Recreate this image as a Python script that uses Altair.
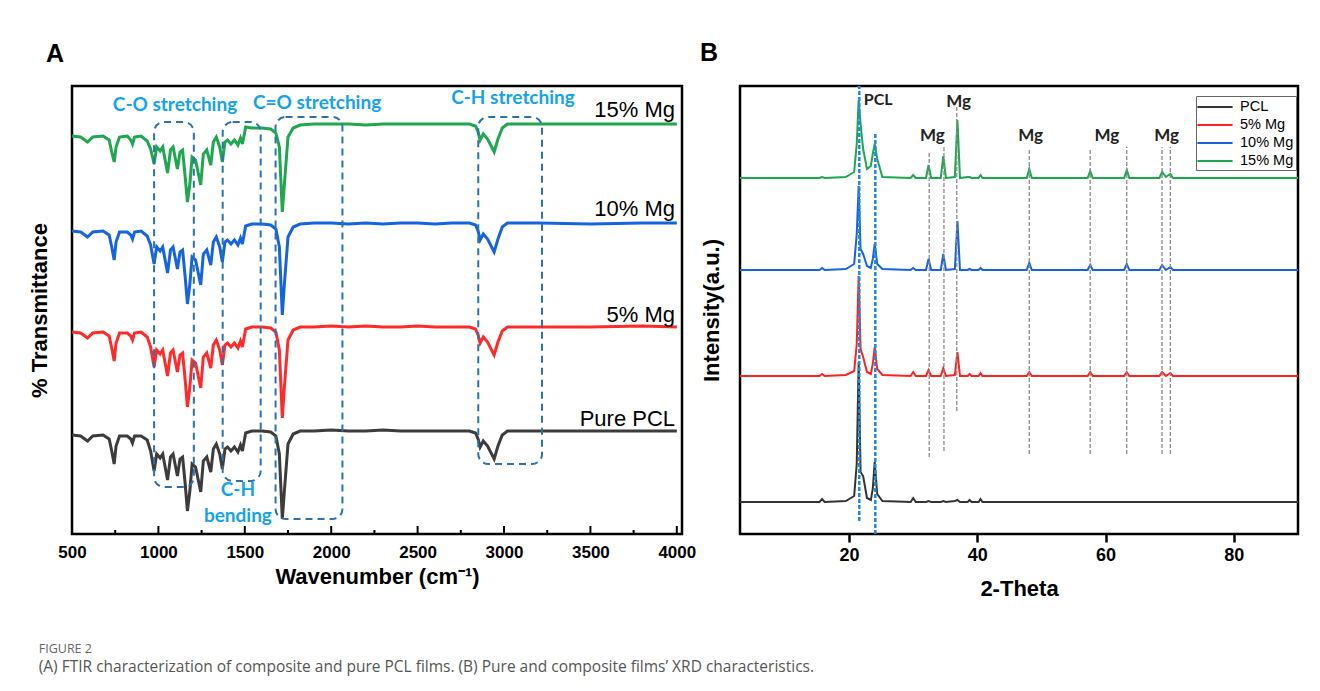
import altair as alt
import pandas as pd

# ---------------- Panel A : FTIR ----------------
WAVENUMBER = [500, 550, 590, 620, 680, 715, 730, 744, 755, 775,
              820, 840, 850, 862, 900, 935, 955, 975, 990, 1010,
              1025, 1053, 1070, 1085, 1110, 1125, 1140, 1155, 1168, 1182,
              1195, 1215, 1245, 1260, 1280, 1303, 1318, 1335, 1355, 1370,
              1385, 1400, 1420, 1440, 1460, 1475, 1486, 1505, 1540, 1600,
              1650, 1680, 1700, 1717, 1730, 1750, 1780, 1820, 1900, 2000,
              2100, 2200, 2300, 2400, 2500, 2600, 2700, 2800, 2835, 2850,
              2862, 2880, 2905, 2943, 2965, 2990, 3020, 3200, 3500, 3800,
              4000]

FTIR_PCL = [99, 98, 93, 98, 99, 95, 83, 70, 88, 98,
            98, 95, 91, 98, 98, 94, 83, 63, 80, 76,
            80, 54, 77, 80, 58, 75, 77, 50, 23, 43,
            70, 67, 42, 73, 77, 62, 85, 90, 80, 65,
            85, 87, 83, 87, 82, 89, 83, 101, 103, 103,
            102, 98, 80, 15, 45, 90, 100, 103, 103, 104,
            103, 103, 104, 103, 103, 103, 103, 103, 101, 95,
            87, 93, 88, 75, 88, 99, 103, 103, 103, 103,
            103]

FTIR_5MG = [202, 201, 196, 201, 202, 198, 186, 173, 191, 201,
            201, 198, 194, 201, 202, 197, 187, 167, 184, 180,
            184, 158, 181, 184, 162, 179, 181, 154, 127, 147,
            174, 171, 146, 177, 181, 166, 189, 194, 184, 169,
            189, 191, 187, 191, 186, 193, 187, 205, 207, 207,
            206, 202, 184, 116, 149, 194, 204, 207, 207, 208,
            207, 208, 207, 207, 208, 207, 207, 207, 205, 199,
            191, 197, 192, 179, 192, 203, 207, 207, 207, 208,
            207]

FTIR_10MG = [303, 302, 297, 302, 303, 299, 287, 274, 292, 302,
             302, 299, 295, 302, 303, 298, 289, 270, 287, 283,
             287, 261, 284, 287, 265, 282, 284, 257, 230, 250,
             277, 274, 249, 280, 284, 269, 292, 297, 287, 272,
             292, 294, 290, 294, 289, 296, 290, 308, 310, 310,
             309, 305, 287, 219, 252, 297, 307, 310, 311, 311,
             310, 311, 310, 311, 311, 310, 311, 311, 309, 303,
             294, 300, 295, 282, 295, 307, 311, 311, 310, 311,
             311]

FTIR_15MG = [398, 397, 392, 397, 398, 394, 382, 372, 387, 397,
             398, 394, 390, 397, 398, 393, 385, 370, 387, 383,
             387, 361, 384, 387, 365, 382, 384, 357, 332, 350,
             377, 374, 349, 380, 384, 369, 392, 397, 387, 372,
             392, 394, 390, 394, 389, 396, 390, 407, 406, 406,
             405, 401, 387, 322, 352, 397, 406, 409, 410, 410,
             410, 409, 410, 410, 410, 410, 410, 410, 408, 402,
             394, 400, 395, 382, 395, 406, 410, 410, 410, 410,
             410]

FTIR_NAMES = ["Pure PCL", "5% Mg", "10% Mg", "15% Mg"]
FTIR_COLORS = ["#3c3c3c", "#ff2b2b", "#1664dc", "#1fa64f"]
FTIR_LABEL_Y = [108, 212, 318, 417]
FTIR_LABEL_X = [3990, 3990, 3990, 3990]

BOX_X1 = [975, 1372, 1678, 2851]
BOX_X2 = [1205, 1592, 2065, 3220]
BOX_Y1 = [47, 53, 15, 70]
BOX_Y2 = [412, 412, 417, 417]

BAND_TEXT = ["C-O stretching", "C=O stretching", "C-H stretching", "C-H", "bending"]
BAND_X = [1096, 1918, 3052, 1460, 1460]
BAND_Y = [429, 431, 436, 44, 18]

MAJOR_TICKS = [500, 1000, 1500, 2000, 2500, 3000, 3500, 4000]
MINOR_TICKS = [750, 1250, 1750, 2250, 2750, 3250, 3750]

# ---------------- Panel B : XRD ----------------
THETA = [3.0, 10.0, 15.4, 15.8, 16.2, 19.5, 20.8, 21.2, 21.5, 21.8,
         22.2, 22.8, 23.4, 23.7, 24.0, 24.4, 25.2, 29.6, 30.0, 30.4,
         32.0, 32.4, 32.8, 34.3, 34.7, 35.1, 36.5, 36.9, 37.3, 38.5,
         38.8, 39.1, 40.2, 40.5, 40.8, 47.7, 48.1, 48.5, 57.2, 57.6,
         58.0, 62.9, 63.3, 63.7, 68.4, 68.8, 69.4, 70.1, 70.5, 90.0]

XRD_PCL = [32, 32, 32, 35, 32, 33, 38, 70, 172, 62,
           58, 36, 34, 45, 72, 40, 33, 32, 36, 32,
           32, 33, 32, 32, 33, 32, 33, 34, 32, 32,
           34, 32, 32, 35, 32, 32, 32, 32, 32, 32,
           32, 32, 32, 32, 32, 32, 32, 32, 32, 32]

XRD_5MG = [158, 158, 158, 160, 158, 159, 163, 190, 258, 185,
           177, 162, 160, 170, 187, 165, 159, 158, 162, 158,
           158, 164, 158, 158, 166, 158, 159, 182, 158, 158,
           160, 158, 158, 161, 158, 158, 162, 158, 158, 162,
           158, 158, 162, 158, 158, 162, 158, 161, 158, 158]

XRD_10MG = [264, 264, 264, 266, 264, 265, 270, 300, 348, 285,
            280, 268, 266, 275, 290, 270, 265, 264, 266, 264,
            264, 275, 264, 264, 280, 264, 265, 313, 264, 264,
            265, 264, 264, 266, 264, 264, 271, 264, 264, 269,
            264, 264, 270, 264, 264, 269, 264, 267, 264, 264]

XRD_15MG = [356, 356, 356, 357, 356, 357, 362, 390, 434, 410,
            385, 365, 368, 380, 390, 375, 357, 356, 359, 356,
            356, 369, 356, 356, 378, 356, 357, 414, 356, 357,
            357, 356, 356, 359, 356, 356, 365, 356, 356, 363,
            356, 356, 364, 356, 356, 362, 357, 360, 356, 356]

XRD_NAMES = ["PCL", "5% Mg", "10% Mg", "15% Mg"]
XRD_COLORS = ["#333333", "#ff2222", "#1a62dc", "#1fa64f"]

PCL_LINE_X = [21.6, 24.1]
PCL_LINE_TOP = [448, 400]
PCL_LINE_BOTTOM = [13, 0]

MG_LINE_X = [32.5, 34.8, 36.8, 48.1, 57.6, 63.3, 68.8, 70.1]
MG_LINE_TOP = [381, 388, 427, 385, 385, 387, 387, 387]
MG_LINE_BOTTOM = [77, 83, 123, 80, 80, 80, 80, 80]

MG_TEXT = ["Mg", "Mg", "Mg", "Mg", "Mg"]
MG_TEXT_X = [33.0, 37.1, 48.3, 60.2, 69.5]
MG_TEXT_Y = [398, 432, 398, 398, 398]
PCL_TEXT = ["PCL"]
PCL_TEXT_X = [22.3]
PCL_TEXT_Y = [434]

CAPTION = ("(A) FTIR characterization of composite and pure PCL films. "
           "(B) Pure and composite films\u2019 XRD characteristics.")

# ---------------- tables ----------------
ftir_rows = []
for name, vals in zip(FTIR_NAMES, [FTIR_PCL, FTIR_5MG, FTIR_10MG, FTIR_15MG]):
    for w, v in zip(WAVENUMBER, vals):
        ftir_rows.append({"wn": w, "T": v, "sample": name})
ftir_df = pd.DataFrame(ftir_rows)

box_df = pd.DataFrame({"wn": BOX_X1, "wn2": BOX_X2, "T": BOX_Y1, "T2": BOX_Y2})
band_df = pd.DataFrame({"wn": BAND_X, "T": BAND_Y, "text": BAND_TEXT})
lab_df = pd.DataFrame({"wn": FTIR_LABEL_X, "T": FTIR_LABEL_Y, "text": FTIR_NAMES})
major_df = pd.DataFrame({"wn": MAJOR_TICKS})
minor_df = pd.DataFrame({"wn": MINOR_TICKS})

xrd_rows = []
for name, vals in zip(XRD_NAMES, [XRD_PCL, XRD_5MG, XRD_10MG, XRD_15MG]):
    for t, v in zip(THETA, vals):
        xrd_rows.append({"theta": t, "I": v, "sample": name})
xrd_df = pd.DataFrame(xrd_rows)

pcl_line_df = pd.DataFrame({"theta": PCL_LINE_X, "I": PCL_LINE_BOTTOM, "I2": PCL_LINE_TOP})
mg_line_df = pd.DataFrame({"theta": MG_LINE_X, "I": MG_LINE_BOTTOM, "I2": MG_LINE_TOP})
mg_text_df = pd.DataFrame({"theta": MG_TEXT_X, "I": MG_TEXT_Y, "text": MG_TEXT})
pcl_text_df = pd.DataFrame({"theta": PCL_TEXT_X, "I": PCL_TEXT_Y, "text": PCL_TEXT})

AXFONT = "Liberation Sans"
XA = alt.Scale(domain=[500, 4030], nice=False, zero=False)
YA = alt.Scale(domain=[0, 448], nice=False, zero=False)
XB = alt.Scale(domain=[3, 90], nice=False, zero=False)
YB = alt.Scale(domain=[0, 448], nice=False, zero=False)

AX_A_X = alt.Axis(values=MAJOR_TICKS, format="d", ticks=False, domain=False, grid=False,
                  labelFontSize=17, labelPadding=10, labelFlush=False,
                  title="Wavenumber (cm\u207b\u00b9)", titleFontSize=22, titlePadding=6)
AX_A_Y = alt.Axis(labels=False, ticks=False, domain=False, grid=False,
                  title="% Transmittance", titleFontSize=22, titlePadding=21)
AX_B_X = alt.Axis(values=[20, 40, 60, 80], format="d", ticks=True, tickSize=8, tickWidth=2.5,
                  tickColor="black", domain=False, grid=False,
                  labelFontSize=18, labelPadding=4,
                  title="2-Theta", titleFontSize=22, titlePadding=14)
AX_B_Y = alt.Axis(labels=False, ticks=False, domain=False, grid=False,
                  title="Intensity(a.u.)", titleFontSize=22, titlePadding=17)


def xa(f="wn:Q"):
    return alt.X(f, scale=XA, axis=AX_A_X)


def ya(f="T:Q"):
    return alt.Y(f, scale=YA, axis=AX_A_Y)


def xb(f="theta:Q"):
    return alt.X(f, scale=XB, axis=AX_B_X)


def yb(f="I:Q"):
    return alt.Y(f, scale=YB, axis=AX_B_Y)


# ---------------- Panel A ----------------
a_lines = alt.Chart(ftir_df).mark_line(strokeWidth=3).encode(
    x=xa(), y=ya(),
    color=alt.Color("sample:N", scale=alt.Scale(domain=FTIR_NAMES, range=FTIR_COLORS), legend=None),
    detail="sample:N",
)

a_boxes = alt.Chart(box_df).mark_rect(
    stroke="#2c72a8", strokeWidth=2, strokeDash=[7, 5], fillOpacity=0, cornerRadius=10
).encode(x=xa(), x2="wn2:Q", y=ya(), y2="T2:Q")

a_band = alt.Chart(band_df).mark_text(
    font="Lato", fontWeight="bold", fontSize=19, color="#14a3e8", baseline="middle"
).encode(x=xa(), y=ya(), text="text:N")

a_labels = alt.Chart(lab_df).mark_text(
    font=AXFONT, fontSize=22, color="black", align="right", baseline="alphabetic"
).encode(x=xa(), y=ya(), text="text:N")

a_major = alt.Chart(major_df).mark_rule(color="black", strokeWidth=2).encode(
    x=xa(), y=alt.value(448), y2=alt.value(440)
)
a_minor = alt.Chart(minor_df).mark_rule(color="black", strokeWidth=2).encode(
    x=xa(), y=alt.value(448), y2=alt.value(444)
)

panel_a = alt.layer(a_lines, a_boxes, a_band, a_labels, a_major, a_minor).properties(
    width=610, height=448,
    title=alt.TitleParams("A", anchor="start", frame="group", dx=-26, fontSize=25,
                          font=AXFONT, fontWeight="bold", color="black", offset=19),
)

# ---------------- Panel B ----------------
b_lines = alt.Chart(xrd_df).mark_line(strokeWidth=2).encode(
    x=xb(), y=yb(),
    color=alt.Color("sample:N", scale=alt.Scale(domain=XRD_NAMES, range=XRD_COLORS),
                    legend=alt.Legend(title=None, orient="none", legendX=456, legendY=10,
                                      symbolType="M-2.2,0H2.2", symbolSize=256,
                                      symbolStrokeWidth=2, symbolOffset=8,
                                      labelFont=AXFONT, labelFontSize=14.5, labelFontWeight="normal",
                                      labelColor="black", strokeColor="#666", fillColor="white",
                                      padding=2, rowPadding=2, labelOffset=16)),
    detail="sample:N",
)

b_mg_lines = alt.Chart(mg_line_df).mark_rule(color="#8a8a8a", strokeWidth=1.3, strokeDash=[4, 2]).encode(
    x=xb(), y=yb(), y2="I2:Q",
)
b_pcl_lines = alt.Chart(pcl_line_df).mark_rule(color="#1b8be0", strokeWidth=2.5, strokeDash=[4, 2]).encode(
    x=xb(), y=yb(), y2="I2:Q",
)
b_mg_text = alt.Chart(mg_text_df).mark_text(
    font="Lato", fontWeight="bold", fontSize=17, color="#222", baseline="middle"
).encode(x=xb(), y=yb(), text="text:N")
b_pcl_text = alt.Chart(pcl_text_df).mark_text(
    font="Lato", fontWeight="bold", fontSize=16, color="#222", baseline="middle", align="left"
).encode(x=xb(), y=yb(), text="text:N")

panel_b = alt.layer(b_lines, b_mg_lines, b_pcl_lines, b_mg_text, b_pcl_text).properties(
    width=558, height=448,
    title=alt.TitleParams("B", anchor="start", frame="group", dx=-40, fontSize=25,
                          font=AXFONT, fontWeight="bold", color="black", offset=19),
)

chart = alt.hconcat(panel_a, panel_b, spacing=1).resolve_scale(
    color="independent", x="independent", y="independent"
).resolve_legend(color="independent").properties(
    title=alt.TitleParams("FIGURE 2", subtitle=[CAPTION], orient="bottom", anchor="start",
                          frame="bounds", offset=43, dx=12, font="Open Sans", fontSize=12.5,
                          fontWeight="normal", color="#666",
                          subtitleFont="Open Sans", subtitleFontSize=15.5, subtitleColor="#555",
                          subtitlePadding=4),
    padding={"left": 18, "top": 31, "right": 5, "bottom": 0},
).configure_view(
    stroke="black", strokeWidth=2.5
).configure_axis(
    labelFont=AXFONT, titleFont=AXFONT, labelFontWeight="bold", titleFontWeight="bold",
    labelColor="black", titleColor="black"
)

chart.save("out.html", embed_options={"renderer": "svg", "actions": False})
